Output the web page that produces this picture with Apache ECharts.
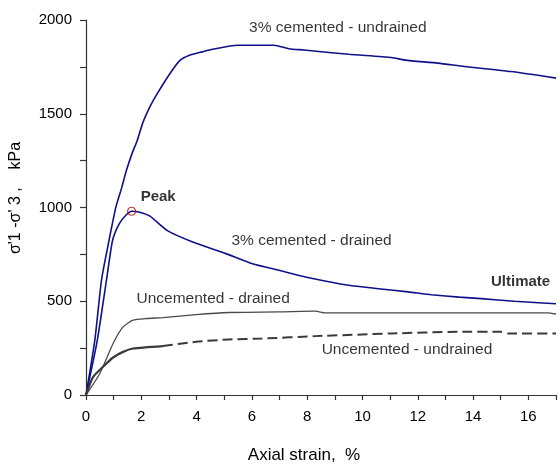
<!DOCTYPE html>
<html>
<head>
<meta charset="utf-8">
<script src="https://cdn.jsdelivr.net/npm/echarts@6/dist/echarts.min.js"></script>
<style>
  html, body { margin: 0; padding: 0; background: #fff; }
  #chart { width: 559px; height: 465px; }
</style>
</head>
<body>
<div id="chart"></div>
<script>
// Deviator stress vs axial strain, triaxial tests (strain %, stress kPa)
const cementedUndrainedStrain = [0, 0.32, 0.56, 0.8, 1.08, 1.3, 1.46, 1.68, 1.85, 2.06, 2.36, 2.6, 3.02, 3.38, 3.74, 4.2, 4.58, 5.48, 6.8, 7.34, 7.88, 9.5, 11.05, 11.54, 12.73, 13.69, 15.37, 17];
const cementedUndrainedStress = [0, 293, 612, 800, 1002, 1110, 1197, 1294, 1356, 1454, 1551, 1613, 1711, 1782, 1812, 1830, 1844, 1865, 1865, 1847, 1840, 1817, 1800, 1786, 1770, 1752, 1725, 1690];

const cementedDrainedStrain = [0, 0.41, 0.74, 0.96, 1.2, 1.45, 1.65, 1.94, 2.3, 2.96, 3.86, 5.06, 6.02, 6.98, 8.2, 9.5, 10.58, 11.65, 12.5, 13.5, 14.3, 15.5, 17];
const cementedDrainedStress = [0, 293, 612, 824, 913, 960, 980, 975, 955, 875, 816, 754, 700, 665, 621, 585, 567, 550, 535, 522, 514, 500, 487];

const uncementedDrainedStrain = [0, 0.5, 0.98, 1.34, 1.7, 2.2, 2.78, 3.98, 5.18, 6.98, 8.3, 8.66, 12, 16.7, 17];
const uncementedDrainedStress = [0, 115, 275, 363, 399, 408, 413, 429, 440, 443, 447, 438, 438, 438, 432];

const uncementedUndrainedStrain = [0, 0.26, 0.74, 0.98, 1.34, 1.7, 2.78, 3.98, 5.18, 6.38, 8.3, 11.05, 13.45, 15.0, 15.25, 17];
const uncementedUndrainedStress = [0, 97, 168, 200, 230, 248, 261, 284, 296, 301, 314, 328, 337, 337, 328, 328];

// Peak of the cemented drained test
const peakStrain = 1.65;
const peakStress = 980;

// Curve annotations (data coordinates)
const noteText = ['3% cemented - undrained', '3% cemented - drained', 'Uncemented - drained', 'Uncemented - undrained'];
const noteStrain = [9.11, 8.16, 4.6, 11.61];
const noteStress = [1957, 824, 511, 239];
const boldNoteText = ['Peak', 'Ultimate'];
const boldNoteStrain = [2.61, 15.72];
const boldNoteStress = [1058, 606];

const xTicks = [0, 2, 4, 6, 8, 10, 12, 14, 16];
const yTicks = [0, 500, 1000, 1500, 2000];

const FONT = 'Liberation Sans, Arial, Helvetica, sans-serif';

function pairs(xs, ys) { return xs.map((x, i) => [x, ys[i]]); }

// Uncemented undrained: dense jittery start drawn solid, remainder dashed
const uuSplit = 6;
const uuSolid = pairs(uncementedUndrainedStrain.slice(0, uuSplit + 1), uncementedUndrainedStress.slice(0, uuSplit + 1));
const uuDashed = pairs(uncementedUndrainedStrain.slice(uuSplit), uncementedUndrainedStress.slice(uuSplit));

const chart = echarts.init(document.getElementById('chart'), null, { renderer: 'canvas' });

const axisLine = { show: true, lineStyle: { color: '#333', width: 1.2 } };

chart.setOption({
  animation: false,
  backgroundColor: '#fff',
  grid: { left: 86, right: 0, top: 20, bottom: 70, containLabel: false },
  xAxis: {
    type: 'value', min: 0, max: 17, interval: 1,
    axisLine: axisLine,
    axisTick: { show: true, inside: false, length: 5, lineStyle: { color: '#333', width: 1.2 } },
    axisLabel: {
      margin: 14, color: '#000', fontFamily: FONT, fontSize: 15,
      formatter: v => (xTicks.indexOf(v) >= 0 ? String(v) : '')
    },
    splitLine: { show: false }
  },
  yAxis: {
    type: 'value', min: 0, max: 2000, interval: 250,
    axisLine: axisLine,
    axisTick: { show: true, inside: false, length: 6, lineStyle: { color: '#333', width: 1.2 } },
    axisLabel: {
      margin: 14, color: '#000', fontFamily: FONT, fontSize: 15,
      formatter: v => (yTicks.indexOf(v) >= 0 ? String(v) : '')
    },
    splitLine: { show: false }
  },
  graphic: [
    {
      type: 'text', x: 304, y: 455,
      style: { text: 'Axial strain,  %', fill: '#000', font: '17px ' + FONT, textAlign: 'center', textVerticalAlign: 'middle' }
    },
    {
      type: 'text', x: 16, y: 198, rotation: Math.PI / 2,
      style: { text: "\u03C3'1 -\u03C3' 3 ,    kPa", fill: '#000', font: '16px ' + FONT, textAlign: 'center', textVerticalAlign: 'middle' }
    }
  ],
  series: [
    {
      name: '3% cemented - undrained', type: 'line', symbol: 'none', smooth: 0.2,
      data: pairs(cementedUndrainedStrain, cementedUndrainedStress),
      lineStyle: { color: '#10108a', width: 1.6 }
    },
    {
      name: '3% cemented - drained', type: 'line', symbol: 'none', smooth: 0.2,
      data: pairs(cementedDrainedStrain, cementedDrainedStress),
      lineStyle: { color: '#10108a', width: 1.6 }
    },
    {
      name: 'Uncemented - drained', type: 'line', symbol: 'none', smooth: 0.2,
      data: pairs(uncementedDrainedStrain, uncementedDrainedStress),
      lineStyle: { color: '#4a4a4a', width: 1.3 }
    },
    {
      name: 'Uncemented - undrained', type: 'line', symbol: 'none', smooth: 0.2,
      data: uuSolid,
      lineStyle: { color: '#3a3a3a', width: 2.2 }
    },
    {
      name: 'Uncemented - undrained (cont.)', type: 'line', symbol: 'none', smooth: 0.2,
      data: uuDashed,
      lineStyle: { color: '#3a3a3a', width: 2, type: [10, 5] }
    },
    {
      name: 'Peak', type: 'scatter', symbol: 'circle', symbolSize: 8,
      data: [[peakStrain, peakStress]],
      itemStyle: { color: 'rgba(255,255,255,0)', borderColor: '#c00000', borderWidth: 1.2 },
      z: 5
    },
    {
      name: 'notes', type: 'scatter', symbolSize: 0, silent: true,
      data: pairs(noteStrain, noteStress).map((p, i) => ({ value: p, name: noteText[i] })),
      label: {
        show: true, position: 'inside', formatter: p => p.name,
        color: '#000', textBorderWidth: 0, fontFamily: FONT, fontSize: 15.5
      }
    },
    {
      name: 'boldNotes', type: 'scatter', symbolSize: 0, silent: true,
      data: pairs(boldNoteStrain, boldNoteStress).map((p, i) => ({ value: p, name: boldNoteText[i] })),
      label: {
        show: true, position: 'inside', formatter: p => p.name,
        color: '#000', textBorderWidth: 0, fontFamily: FONT, fontSize: 15, fontWeight: 'bold'
      }
    }
  ]
});
</script>
</body>
</html>
